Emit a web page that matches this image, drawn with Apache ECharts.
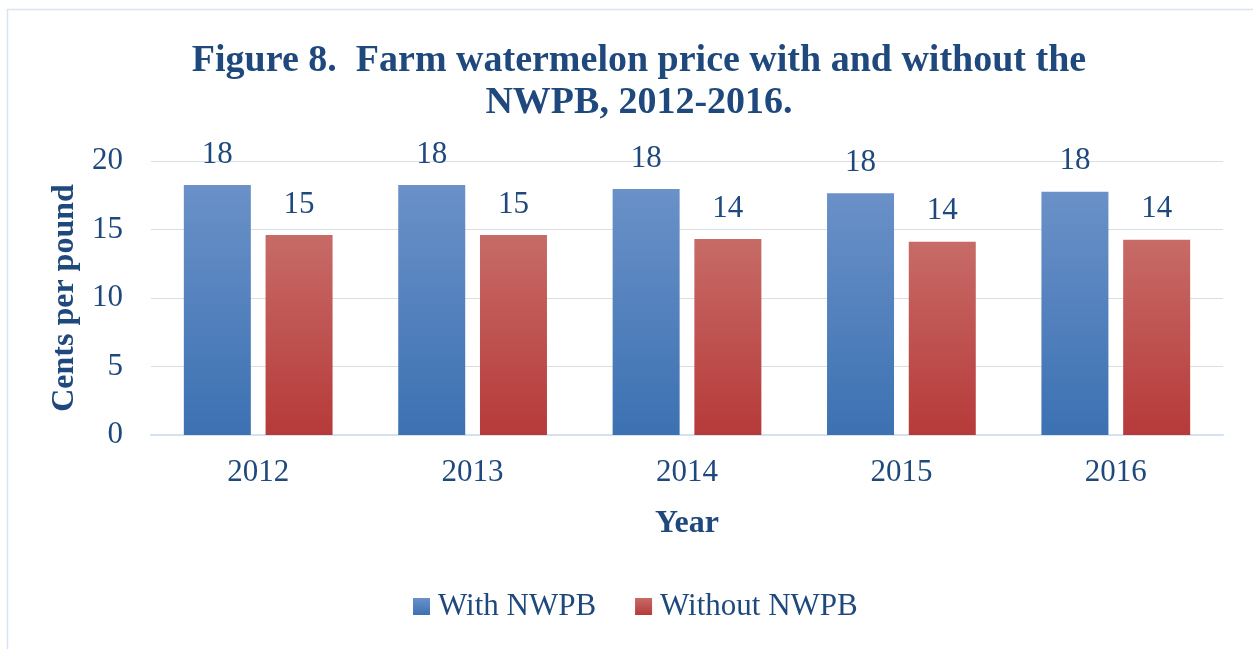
<!DOCTYPE html>
<html><head><meta charset="utf-8">
<script src="https://cdn.jsdelivr.net/npm/echarts@6/dist/echarts.min.js"></script>
<style>html,body{margin:0;padding:0;background:#fff}#c{width:1253px;height:649px}</style>
</head><body><div id="c"></div>
<script>
const years = ['2012','2013','2014','2015','2016'];
const withNWPB = [18.25, 18.25, 17.95, 17.65, 17.75];
const withoutNWPB = [14.6, 14.6, 14.3, 14.1, 14.25];
const yTicks = [0, 5, 10, 15, 20];

const txt = '#1F497D';
const serif = '"Liberation Serif","DejaVu Serif",serif';
function grad(top, bottom){
  return new echarts.graphic.LinearGradient(0,0,0,1,[{offset:0,color:top},{offset:1,color:bottom}]);
}
const chart = echarts.init(document.getElementById('c'));
chart.setOption({
  animation:false,
  textStyle:{fontFamily:serif},
  graphic:[{type:'rect',shape:{x:7.5,y:9.5,width:1400,height:800},style:{fill:null,stroke:'#D9E3F1',lineWidth:1.5},silent:true}],
  title:{text:'Figure 8.  Farm watermelon price with and without the\nNWPB, 2012-2016.',left:634,top:35,textAlign:'center',
    textStyle:{fontFamily:serif,fontWeight:'bold',fontSize:38,color:txt,lineHeight:42}},
  grid:{left:151,right:30,top:161,height:274,containLabel:false},
  legend:{top:586,left:408,itemWidth:17,itemHeight:17,itemGap:39,icon:'rect',
    textStyle:{fontFamily:serif,fontSize:31,color:txt,padding:[0,0,0,3]}},
  xAxis:{type:'category',data:years,name:'Year',nameLocation:'middle',nameGap:73,
    nameTextStyle:{fontFamily:serif,fontWeight:'bold',fontSize:32,color:txt},
    axisLine:{lineStyle:{color:'#D6E1F0',width:2}},axisTick:{show:false},
    axisLabel:{fontFamily:serif,fontSize:31,color:txt,margin:22}},
  yAxis:{type:'value',min:yTicks[0],max:yTicks[yTicks.length-1],interval:5,name:'Cents per pound',nameLocation:'middle',nameGap:65,
    nameTextStyle:{fontFamily:serif,fontWeight:'bold',fontSize:32,color:txt},
    axisLine:{show:false},axisTick:{show:false},
    axisLabel:{fontFamily:serif,fontSize:31,color:txt,margin:28}},
  series:[
    {name:'With NWPB',type:'bar',data:withNWPB,barWidth:67,barGap:'22%',
      itemStyle:{color:grad('#6A91C8','#3C71B2')},
      label:{show:true,position:'top',distance:15,fontFamily:serif,fontSize:31,color:txt,formatter:p=>Math.round(p.value)}},
    {name:'Without NWPB',type:'bar',data:withoutNWPB,barWidth:67,
      itemStyle:{color:grad('#C76B67','#B63A39')},
      label:{show:true,position:'top',distance:15,fontFamily:serif,fontSize:31,color:txt,formatter:p=>Math.round(p.value)}}
  ]
});
</script></body></html>
